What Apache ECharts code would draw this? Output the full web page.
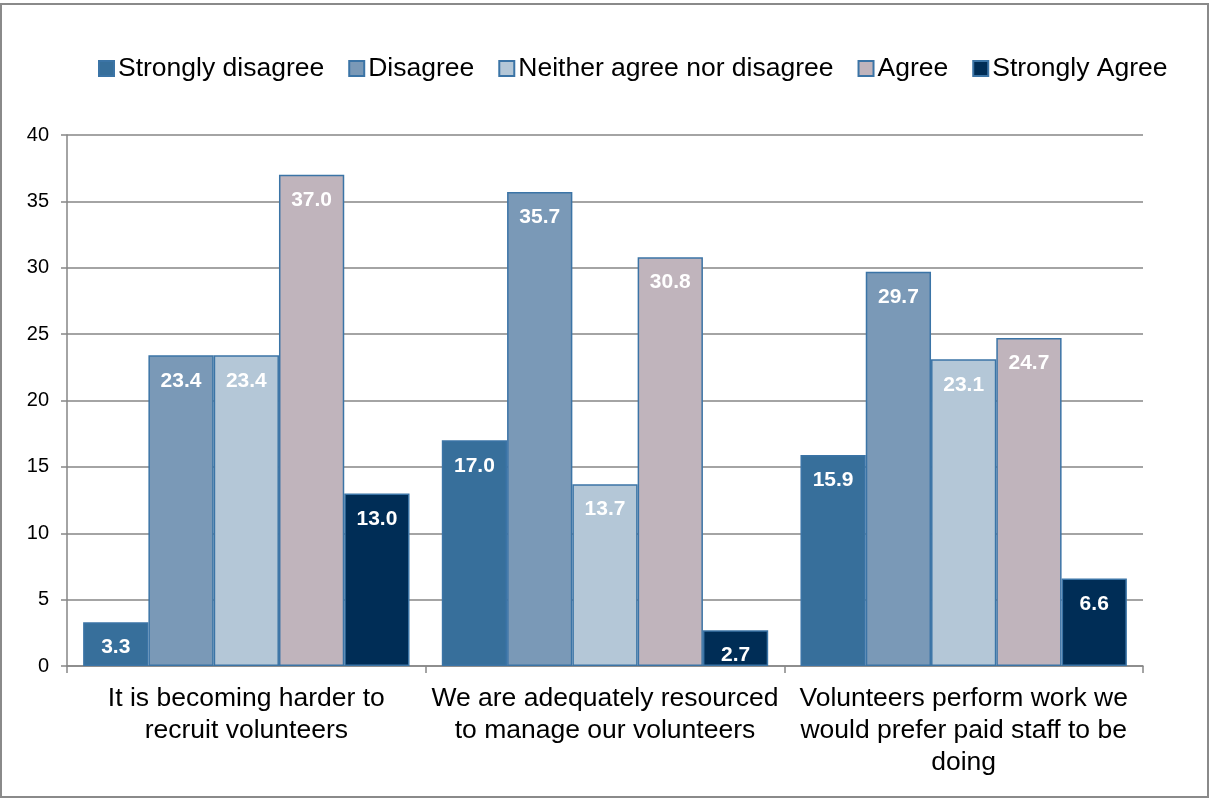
<!DOCTYPE html>
<html>
<head>
<meta charset="utf-8">
<script src="https://cdn.jsdelivr.net/npm/echarts@6/dist/echarts.min.js"></script>
<style>
  html, body { margin: 0; padding: 0; background: #fff; }
  #chart { width: 1210px; height: 799px; }
</style>
</head>
<body>
<div id="chart"></div>
<script>
// Survey statements (x-axis categories)
const categories = [
  'It is becoming harder to\nrecruit volunteers',
  'We are adequately resourced\nto manage our volunteers',
  'Volunteers perform work we\nwould prefer paid staff to be\ndoing'
];

// Response shares (%) per statement
const stronglyDisagree = [3.3, 17.0, 15.9];
const disagree         = [23.4, 35.7, 29.7];
const neither          = [23.4, 13.7, 23.1];
const agree            = [37.0, 30.8, 24.7];
const stronglyAgree    = [13.0, 2.7, 6.6];

const seriesNames = ['Strongly disagree', 'Disagree', 'Neither agree nor disagree', 'Agree', 'Strongly Agree'];
const seriesData = [stronglyDisagree, disagree, neither, agree, stronglyAgree];
const seriesColors = ['#376f9b', '#7a99b7', '#b4c7d7', '#c0b4bc', '#002d56'];

const yTicks = { min: 0, max: 40, interval: 5 };

const FONT = '"Liberation Sans", Arial, sans-serif';

const chart = echarts.init(document.getElementById('chart'), null, { renderer: 'canvas' });

chart.setOption({
  animation: false,
  backgroundColor: '#ffffff',
  textStyle: { fontFamily: FONT },
  graphic: [{
    type: 'rect',
    shape: { x: 1, y: 4, width: 1207, height: 793 },
    style: { fill: 'none', stroke: '#8a8a8a', lineWidth: 2 },
    silent: true
  }],
  legend: {
    top: 50,
    left: 93,
    itemWidth: 15,
    itemHeight: 15,
    itemGap: 24,
    textStyle: { fontFamily: FONT, fontSize: 26.5, color: '#000', padding: [0, 0, 0, -1] },
    data: seriesNames.map((n) => ({ name: n, icon: 'rect' }))
  },
  grid: { left: 67, right: 67, top: 135, bottom: 133, containLabel: false },
  xAxis: {
    type: 'category',
    data: categories,
    axisLine: { lineStyle: { color: '#868686', width: 1.5 } },
    axisTick: { show: true, length: 7, lineStyle: { color: '#868686', width: 1.5 } },
    axisLabel: {
      fontFamily: FONT, fontSize: 26.5, color: '#000',
      lineHeight: 32, margin: 17, interval: 0, align: 'center'
    },
    splitLine: { show: false }
  },
  yAxis: {
    type: 'value',
    min: yTicks.min, max: yTicks.max, interval: yTicks.interval,
    axisLine: { show: true, lineStyle: { color: '#868686', width: 1.5 } },
    axisTick: { show: true, length: 6, lineStyle: { color: '#868686', width: 1.5 } },
    axisLabel: { fontFamily: FONT, fontSize: 20, color: '#000', margin: 18 },
    splitLine: { show: true, lineStyle: { color: '#868686', width: 1.5 } }
  },
  series: seriesNames.map((name, i) => ({
    name: name,
    type: 'bar',
    data: seriesData[i],
    barGap: '0%',
    barCategoryGap: '9%',
    itemStyle: {
      color: seriesColors[i],
      borderColor: '#3b74a6',
      borderWidth: 1.5
    },
    label: {
      show: true,
      position: 'insideTop',
      distance: 15,
      formatter: (p) => p.value.toFixed(1),
      fontFamily: FONT,
      fontSize: 21,
      fontWeight: 'bold',
      color: '#ffffff'
    }
  }))
});
</script>
</body>
</html>
